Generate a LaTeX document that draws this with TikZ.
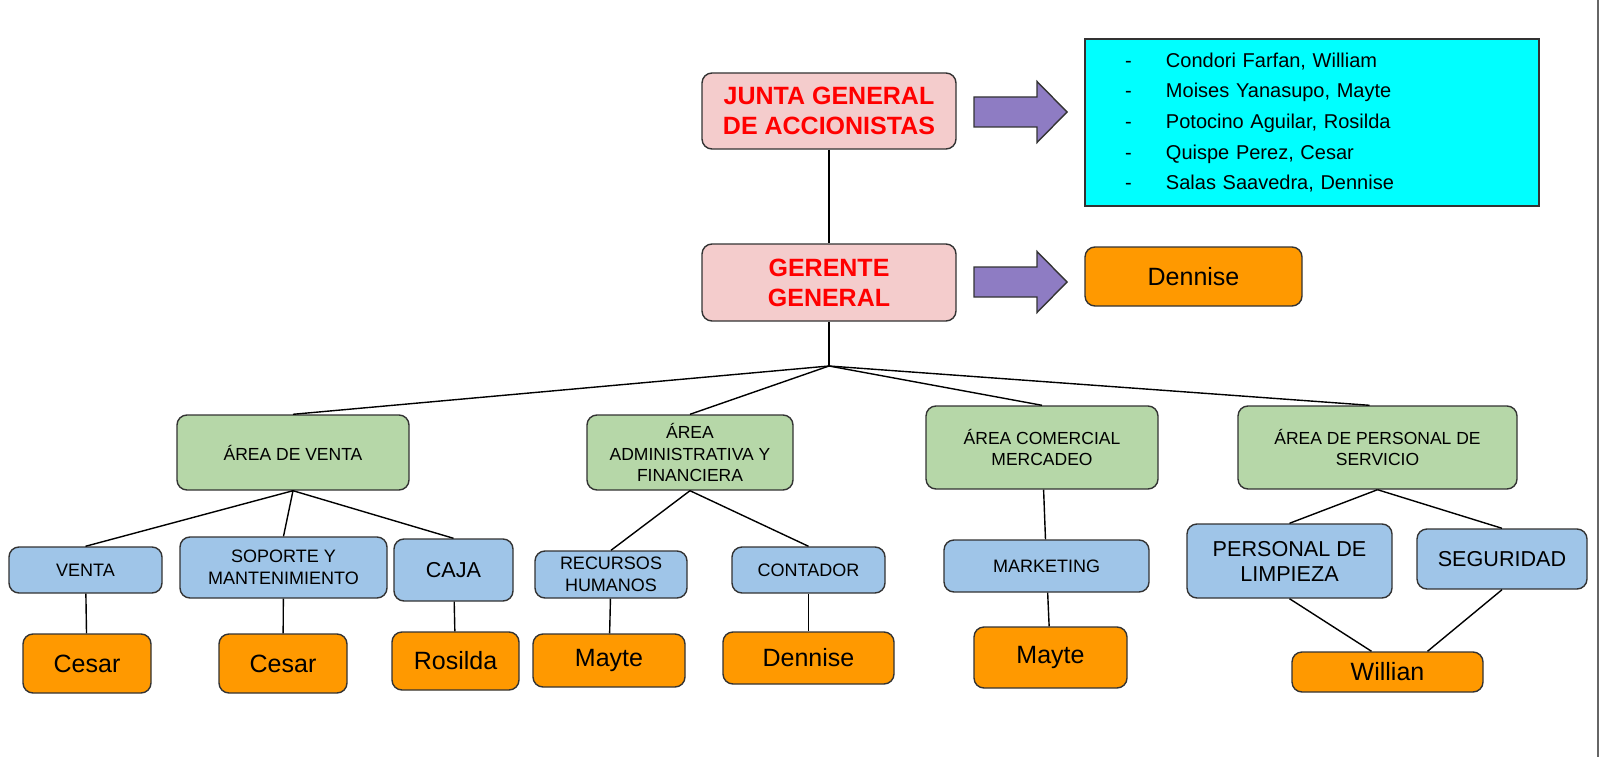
\documentclass[tikz,border=0pt]{standalone}
\usepackage{fontspec}
\setmainfont{Liberation Sans}

\definecolor{rosa}{HTML}{F4CCCC}
\definecolor{rojo}{HTML}{FF0000}
\definecolor{morado}{HTML}{8E7CC3}
\definecolor{cian}{HTML}{00FFFF}
\definecolor{naranja}{HTML}{FF9900}
\definecolor{verde}{HTML}{B6D7A8}
\definecolor{azul}{HTML}{9FC5E8}

\newcommand{\guion}{\makebox[41pt][l]{-}}

\tikzset{
  cajabase/.style={draw=black!80,line width=1.4pt,rounded corners=10pt,align=center,inner sep=0pt,text=black},
  jefebox/.style={cajabase,fill=rosa,text=rojo,font=\fontsize{25}{30}\selectfont\bfseries},
  areabox/.style={cajabase,fill=verde,font=\fontsize{17.5}{21.5}\selectfont},
  cargobox/.style={cajabase,fill=azul,font=\fontsize{18}{21.5}\selectfont},
  cargogrande/.style={cargobox,font=\fontsize{21.6}{25}\selectfont},
  nombrebox/.style={cajabase,fill=naranja,font=\fontsize{25}{30}\selectfont},
  listabox/.style={draw=black!80,line width=1.4pt,fill=cian,align=left,inner ysep=0pt,font=\fontsize{20}{30.6}\selectfont},
  linea/.style={line width=1.4pt,black},
  flecha/.pic={\draw[fill=morado,draw=black!80,line width=1.4pt] (0,-15) -- (63,-15) -- (63,-30.5) -- (93,0) -- (63,30.5) -- (63,15) -- (0,15) -- cycle;}
}

\begin{document}
\begin{tikzpicture}[x=1pt,y=-1pt]
    \useasboundingbox (0,0) rectangle (1600,757);
    \draw[black!60,line width=1.2pt] (1598,0) -- (1598,757);

    %direccion
    \node (junta) at (829,111) [jefebox,minimum width=254pt,minimum height=76pt] {JUNTA GENERAL\\DE ACCIONISTAS};
    \node (gerente) at (829,282.5) [jefebox,minimum width=254pt,minimum height=77pt] {GERENTE\\GENERAL};
    \node (socios) at (1312,122.5) [listabox,minimum height=167pt,text width=374pt,inner xsep=40pt] {\guion Condori Farfan, William\\ \guion Moises Yanasupo, Mayte\\ \guion Potocino Aguilar, Rosilda\\ \guion Quispe Perez, Cesar\\ \guion Salas Saavedra, Dennise};
    \node (gerentenombre) at (1193.5,276.5) [nombrebox,minimum width=217pt,minimum height=59pt] {Dennise};
    \pic at (974,112) {flecha};
    \pic at (974,282) {flecha};
    \coordinate (nodo) at (829,366);

    %areas
    \node (venta) at (293,452.5) [areabox,minimum width=232pt,minimum height=75pt] {ÁREA DE VENTA};
    \node (admin) at (690,452.5) [areabox,minimum width=206pt,minimum height=75pt] {ÁREA\\ADMINISTRATIVA Y\\FINANCIERA};
    \node (comercial) at (1042,447.5) [areabox,minimum width=232pt,minimum height=83pt] {ÁREA COMERCIAL\\MERCADEO};
    \node (personal) at (1377.5,447.5) [areabox,minimum width=279pt,minimum height=83pt] {ÁREA DE PERSONAL DE\\SERVICIO};

    %cargos
    \node (cventa) at (85.5,570) [cargobox,minimum width=153pt,minimum height=46pt] {VENTA};
    \node (soporte) at (283.5,567.5) [cargobox,minimum width=207pt,minimum height=61pt] {SOPORTE Y\\MANTENIMIENTO};
    \node (caja) at (453.5,570) [cargogrande,minimum width=119pt,minimum height=62pt] {CAJA};
    \node (rrhh) at (611,574.5) [cargobox,minimum width=152pt,minimum height=47pt] {RECURSOS\\HUMANOS};
    \node (contador) at (808.5,570) [cargobox,minimum width=153pt,minimum height=46pt] {CONTADOR};
    \node (marketing) at (1046.5,566) [cargobox,minimum width=205pt,minimum height=52pt] {MARKETING};
    \node (limpieza) at (1289.5,561) [cargogrande,minimum width=205pt,minimum height=74pt] {PERSONAL DE\\LIMPIEZA};
    \node (seguridad) at (1502,559) [cargogrande,minimum width=170pt,minimum height=60pt] {SEGURIDAD};

    %nombres
    \node (cesar1) at (87,663.5) [nombrebox,minimum width=128pt,minimum height=59pt] {Cesar};
    \node (cesar2) at (283,663.5) [nombrebox,minimum width=128pt,minimum height=59pt] {Cesar};
    \node (rosilda) at (455.5,661) [nombrebox,minimum width=127pt,minimum height=58pt] {Rosilda};
    \node (mayte1) at (609,660.5) [nombrebox,minimum width=152pt,minimum height=53pt] {Mayte};
    \node (dennise) at (808.5,658) [nombrebox,minimum width=171pt,minimum height=52pt] {Dennise};
    \node (mayte2) at (1050.5,657.5) [nombrebox,minimum width=153pt,minimum height=61pt] {Mayte};
    \node (willian) at (1387.5,672) [nombrebox,minimum width=191pt,minimum height=40pt] {Willian};

    \draw [linea] (junta) -- (gerente);
    \draw [linea] (gerente) -- (nodo);
    \draw [linea] (nodo) -- (venta.north);
    \draw [linea] (nodo) -- (admin.north);
    \draw [linea] (nodo) -- (comercial.north);
    \draw [linea] (nodo) -- ([xshift=-8pt]personal.north);

    \draw [linea] (venta.south) -- (cventa.north);
    \draw [linea] (venta.south) -- (soporte.north);
    \draw [linea] (venta.south) -- (caja.north);
    \draw [linea] (admin.south) -- (rrhh.north);
    \draw [linea] (admin.south) -- (contador.north);
    \draw [linea] (comercial) -- (marketing);
    \draw [linea] (personal.south) -- (limpieza.north);
    \draw [linea] (personal.south) -- (seguridad.north);

    \draw [linea] (cventa) -- (cesar1);
    \draw [linea] (soporte) -- (cesar2);
    \draw [linea] (caja) -- (rosilda);
    \draw [linea] (rrhh) -- (mayte1);
    \draw [linea] (contador) -- (dennise);
    \draw [linea] (marketing) -- (mayte2);
    \draw [linea] (limpieza.south) -- ([xshift=-16pt]willian.north);
    \draw [linea] (seguridad.south) -- ([xshift=40pt]willian.north);
\end{tikzpicture}
\end{document}
